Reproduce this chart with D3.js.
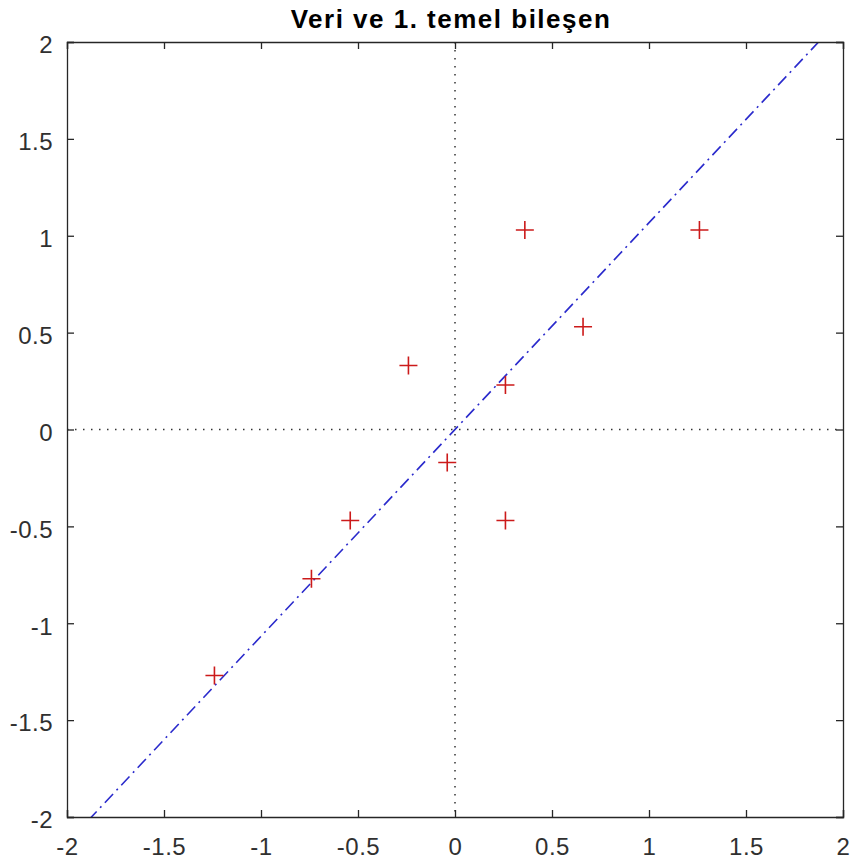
<!DOCTYPE html>
<html>
<head>
<meta charset="utf-8">
<script src="https://cdn.jsdelivr.net/npm/d3@7"></script>
<style>
    body { margin: 0; background: #fff; }
    text { font-family: "Liberation Sans", Arial, Helvetica, sans-serif; }
</style>
</head>
<body>
<div id="graph"></div>
<script>
// Data (centered values)
let xValues = [1.26, 0.36, 0.66, -0.24, 0.26, -0.04, 0.26, -0.54, -0.74, -1.24];
let yValues = [1.03, 1.03, 0.53, 0.33, 0.23, -0.17, -0.47, -0.47, -0.77, -1.27];
// First principal component direction
let component = [0.684, 0.730];
let lineT = [-4, 4];
let ticks = [-2, -1.5, -1, -0.5, 0, 0.5, 1, 1.5, 2];
let titleText = "Veri ve 1. temel bileşen";

let width = 853;
let height = 868;
let margin = { left: 67, top: 42, right: 10, bottom: 51 };
let plotW = width - margin.left - margin.right;
let plotH = height - margin.top - margin.bottom;
let axisColor = "#262626";

let xScale = d3.scaleLinear().domain([-2, 2]).range([0, plotW]);
let yScale = d3.scaleLinear().domain([-2, 2]).range([plotH, 0]);

let svg = d3.select("#graph")
    .append("svg")
    .attr("width", width)
    .attr("height", height);

svg.append("defs").append("clipPath")
    .attr("id", "clip")
    .append("rect")
    .attr("width", plotW)
    .attr("height", plotH);

let g = svg.append("g")
    .attr("transform", "translate(" + margin.left + "," + margin.top + ")");

// Title
svg.append("text")
    .attr("x", 451)
    .attr("y", 28)
    .attr("text-anchor", "middle")
    .attr("font-size", "26px")
    .attr("font-weight", "bold")
    .attr("letter-spacing", "1.5px")
    .attr("fill", "#000")
    .text(titleText);

let plot = g.append("g").attr("clip-path", "url(#clip)");

// Dotted zero lines
plot.append("line")
    .attr("x1", xScale(0)).attr("x2", xScale(0))
    .attr("y1", 0).attr("y2", plotH)
    .attr("stroke", "#333")
    .attr("stroke-width", 1.5)
    .attr("stroke-dasharray", "1.5,6.5");

plot.append("line")
    .attr("x1", 0).attr("x2", plotW)
    .attr("y1", yScale(0)).attr("y2", yScale(0))
    .attr("stroke", "#333")
    .attr("stroke-width", 1.5)
    .attr("stroke-dasharray", "1.5,6.5");

// Principal component line
let line = d3.line()
    .x(t => xScale(t * component[0]))
    .y(t => yScale(t * component[1]));

plot.append("path")
    .datum(lineT)
    .attr("d", line)
    .attr("fill", "none")
    .attr("stroke", "#2a2acc")
    .attr("stroke-width", 1.6)
    .attr("stroke-dasharray", "12,5,2,5");

// Plus markers
let points = xValues.map((x, i) => ({ x: x, y: yValues[i] }));
let half = 9;
let markers = plot.selectAll(".marker")
    .data(points)
    .enter()
    .append("g")
    .attr("transform", d => "translate(" + xScale(d.x) + "," + yScale(d.y) + ")");

markers.append("path")
    .attr("d", "M" + (-half) + ",0H" + half + "M0," + (-half) + "V" + half)
    .attr("stroke", "#cc1a1a")
    .attr("stroke-width", 1.6)
    .attr("fill", "none");

// Axes with inward ticks on all sides
let tickFmt = d => d3.format("")(d).replace("−", "-");

let xBottom = g.append("g")
    .attr("transform", "translate(0," + plotH + ")")
    .call(d3.axisBottom(xScale).tickValues(ticks).tickSize(-7).tickPadding(21).tickFormat(tickFmt));

let xTop = g.append("g")
    .call(d3.axisTop(xScale).tickValues(ticks).tickSize(-7).tickFormat(""));

let yLeft = g.append("g")
    .call(d3.axisLeft(yScale).tickValues(ticks).tickSize(-7).tickPadding(14).tickFormat(tickFmt));

let yRight = g.append("g")
    .attr("transform", "translate(" + plotW + ",0)")
    .call(d3.axisRight(yScale).tickValues(ticks).tickSize(-7).tickFormat(""));

[xBottom, xTop, yLeft, yRight].forEach(a => {
    a.select(".domain").attr("stroke", axisColor).attr("stroke-width", 1.3);
    a.selectAll(".tick line").attr("stroke", axisColor).attr("stroke-width", 1.3);
    a.selectAll(".tick text")
        .attr("font-size", "24px")
        .attr("letter-spacing", "0.5px")
        .attr("fill", "#303030")
        .style("font-family", "'Liberation Sans', Arial, sans-serif");
});

yLeft.selectAll(".tick text").attr("dy", "0.45em");
</script>
</body>
</html>
